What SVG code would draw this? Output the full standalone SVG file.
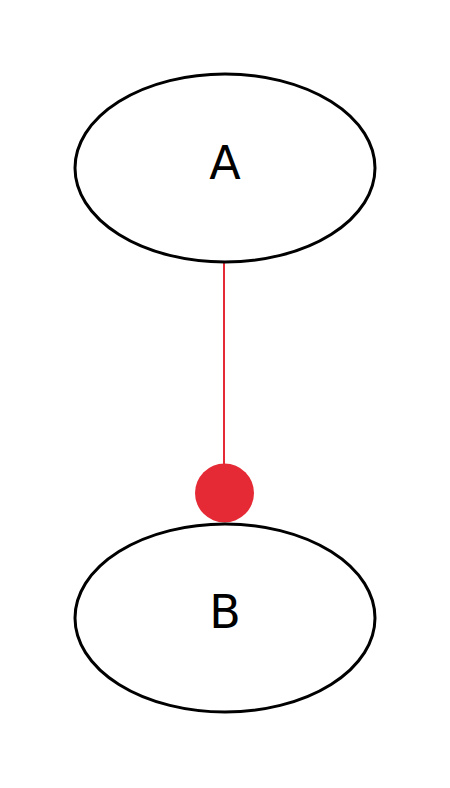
<svg xmlns="http://www.w3.org/2000/svg" width="450" height="788" viewBox="0 0 450 788">
<style>
.node ellipse{fill:#fff;stroke:#000;stroke-width:3}
.node text{font-family:"DejaVu Sans",sans-serif;font-size:46px;fill:#000;text-anchor:middle}
.edge{stroke:#e52a36;stroke-width:2;fill:none}
</style>
<rect width="450" height="788" fill="#fff"/>
<g id="connectors">
<line class="edge" x1="224" y1="262" x2="224" y2="466"/>
<circle cx="224.5" cy="493" r="29.5" fill="#e52a36"/>
</g>
<g id="node-A" class="node">
<ellipse cx="225" cy="168" rx="150" ry="94"/>
<text x="225" y="179">A</text>
</g>
<g id="node-B" class="node">
<ellipse cx="225" cy="618" rx="150" ry="94"/>
<text x="225" y="628">B</text>
</g>
</svg>
